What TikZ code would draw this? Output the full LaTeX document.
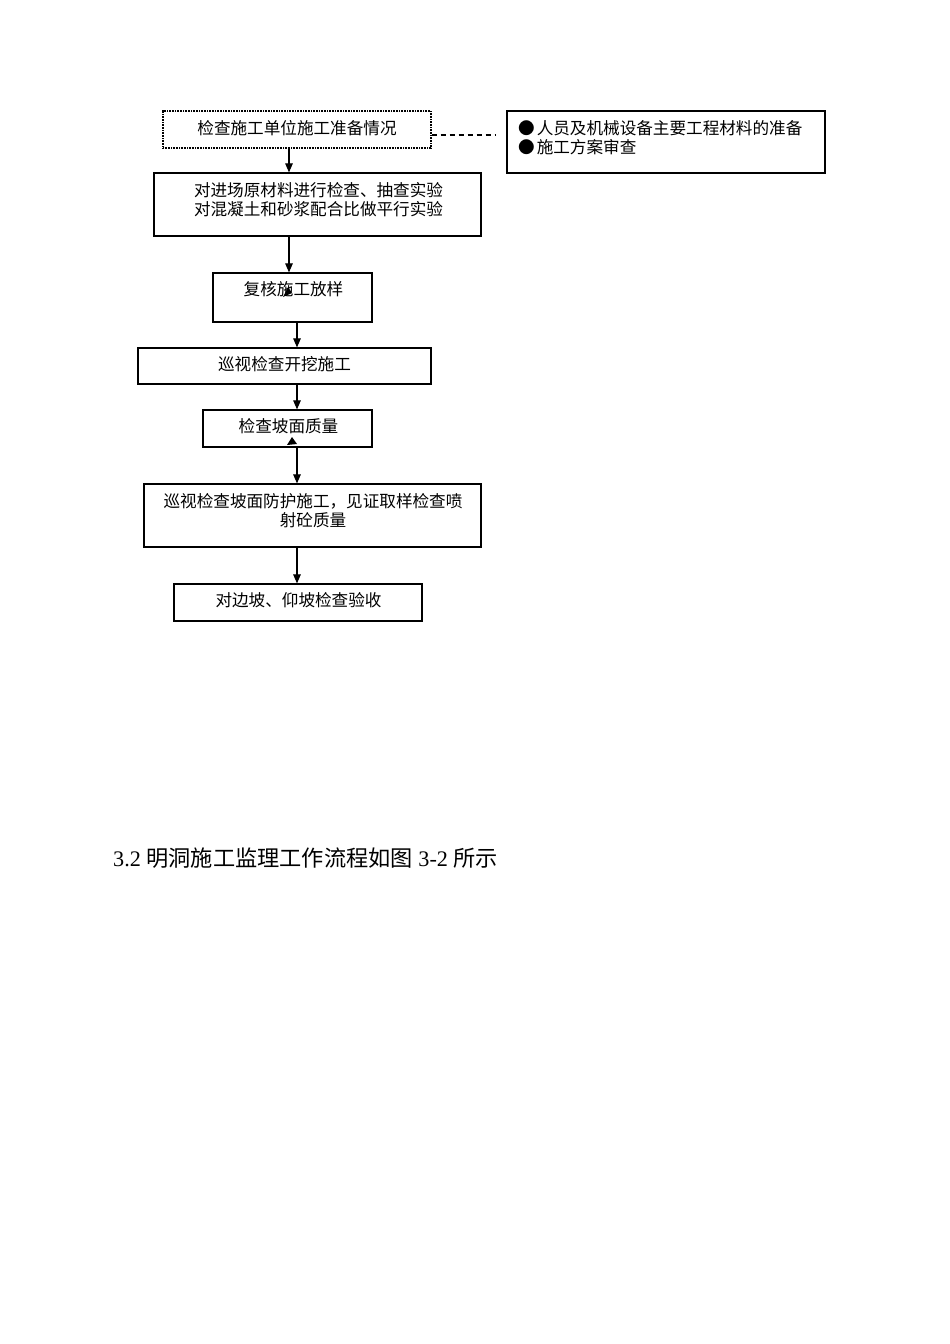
\documentclass[tikz,border=0pt]{standalone}
\usepackage{fontspec}
\setmainfont{Liberation Serif}
\newfontfamily\cjk{Noto Sans CJK SC}
\usetikzlibrary{arrows.meta}
\begin{document}
\begin{tikzpicture}[x=1pt,y=-1pt,
  box/.style={draw, line width=1.2pt, inner sep=0pt},
  dotbox/.style={draw, line width=1.2pt, dash pattern=on 1pt off 0.6pt, inner sep=0pt},
  txt/.style={font=\cjk\fontsize{16.6}{19.5}\selectfont, align=center, inner sep=0pt},
  arr/.style={line width=1.1pt, -{Triangle[length=9pt,width=7.5pt]}},
  tipfill/.style={fill=black}]
\useasboundingbox[fill=white] (0,0) rectangle (950,1344);
% boxes
\node[dotbox, minimum width=268pt, minimum height=37pt] (b1) at (297,129.5) {};
\node[box, minimum width=318pt, minimum height=62pt] (b2) at (666,142) {};
\node[box, minimum width=327pt, minimum height=63pt] (b3) at (317.5,204.5) {};
\node[box, minimum width=159pt, minimum height=49pt] (b4) at (292.5,297.5) {};
\node[box, minimum width=293pt, minimum height=36pt] (b5) at (284.5,366) {};
\node[box, minimum width=169pt, minimum height=37pt] (b6) at (287.5,428.5) {};
\node[box, minimum width=337pt, minimum height=63pt] (b7) at (312.5,515.5) {};
\node[box, minimum width=248pt, minimum height=37pt] (b8) at (298,602.5) {};
% texts
\node[txt] (t1) at (297,128.5) {检查施工单位施工准备情况};
\node[txt, align=left, anchor=west] (t2) at (518,137.5) {●\hspace{2pt}人员及机械设备主要工程材料的准备\\●\hspace{2pt}施工方案审查};
\node[txt] (t3) at (318.5,199.5) {对进场原材料进行检查、抽查实验\\对混凝土和砂浆配合比做平行实验};
\node[txt] (t4) at (293.5,289.5) {复核施工放样};
\node[txt] (t5) at (284.5,364.5) {巡视检查开挖施工};
\node[txt] (t6) at (288.5,426.5) {检查坡面质量};
\node[txt] (t7) at (313,510.5) {巡视检查坡面防护施工，见证取样检查喷\\射砼质量};
\node[txt] (t8) at (298.5,600.5) {对边坡、仰坡检查验收};
% heading
\node[anchor=west, inner sep=0pt, font=\fontsize{22.2}{26}\selectfont] (h) at (113,858) {3.2 {\cjk 明洞施工监理工作流程如图} 3-2 {\cjk 所示}};
% columns for connectors
\coordinate (c1) at (289,0);
\coordinate (c2) at (297,0);
\coordinate (d1) at (495,135);
% connectors
\draw[arr] (b1.south -| c1) -- (b3.north -| c1);
\draw[arr] (b3.south -| c1) -- (b4.north -| c1);
\draw[arr] (b4.south -| c2) -- (b5.north -| c2);
\draw[arr] (b5.south -| c2) -- (b6.north -| c2);
\draw[arr] (b6.south -| c2) -- (b7.north -| c2);
\draw[arr] (b7.south -| c2) -- (b8.north -| c2);
\draw[line width=1.2pt, dash pattern=on 5pt off 4pt] (b1.east |- d1) -- (d1);
% stray arrow tips
\fill[tipfill] (283,297) -- (288,287) -- (292,293) -- cycle;
\fill[tipfill] (292,437) -- (287,445) -- (297,444) -- cycle;
\end{tikzpicture}
\end{document}
